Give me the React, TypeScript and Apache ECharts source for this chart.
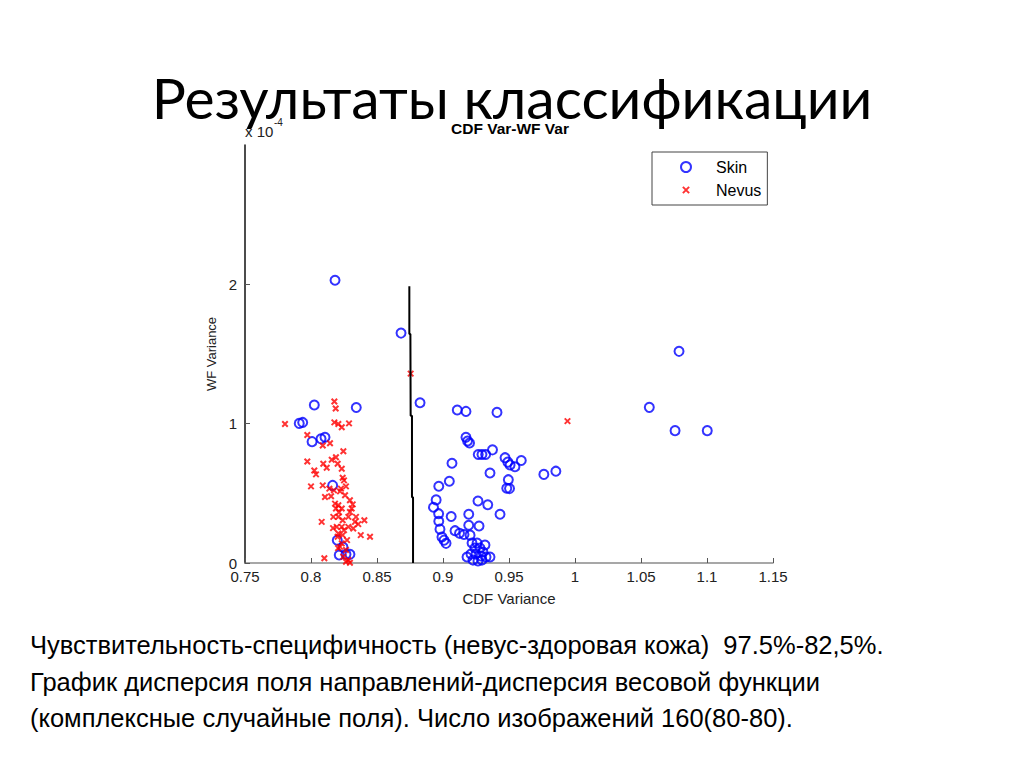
import React, { useEffect, useRef } from "react";
import * as echarts from "echarts";

// CDF Variance (x) vs WF Variance (y, units of 1e-4)
const skinPoints: number[][] = [
  [0.8182, 2.029], [0.8682, 1.65], [0.8826, 1.15], [0.9108, 1.098], [0.9174, 1.088],
  [0.9409, 1.081], [0.8025, 1.134], [0.8343, 1.116], [0.7911, 1.002], [0.7937, 1.009],
  [0.8008, 0.871], [0.8076, 0.891], [0.8106, 0.902], [0.8164, 0.557], [0.8199, 0.164],
  [0.8242, 0.114], [0.8214, 0.057], [0.8265, 0.062], [0.8295, 0.062], [0.9174, 0.902],
  [0.9186, 0.875], [0.9201, 0.861], [0.9267, 0.779], [0.9295, 0.779], [0.9323, 0.779],
  [0.9375, 0.812], [0.9068, 0.716], [0.947, 0.756], [0.9491, 0.724], [0.9508, 0.704],
  [0.9545, 0.691], [0.9593, 0.736], [0.9356, 0.646], [0.9764, 0.636], [0.9855, 0.659],
  [0.9048, 0.587], [0.8968, 0.551], [0.9495, 0.598], [0.9483, 0.536], [0.9504, 0.534],
  [0.8948, 0.453], [0.8928, 0.4], [0.9265, 0.445], [0.9339, 0.418], [0.8967, 0.354],
  [0.8968, 0.3], [0.8977, 0.243], [0.9062, 0.334], [0.9195, 0.35], [0.9432, 0.35],
  [0.9195, 0.271], [0.9273, 0.266], [0.9091, 0.232], [0.9125, 0.213], [0.9159, 0.205],
  [0.8992, 0.186], [0.9008, 0.164], [0.9023, 0.141], [0.9205, 0.2], [0.9182, 0.043],
  [0.922, 0.143], [0.9258, 0.143], [0.9242, 0.107], [0.928, 0.107], [0.9212, 0.064],
  [0.925, 0.064], [0.9288, 0.05], [0.9326, 0.043], [0.9356, 0.043], [0.9265, 0.014],
  [0.9303, 0.079], [0.9318, 0.129], [0.9227, 0.021], [0.9295, 0.021], [1.0788, 1.519],
  [1.0563, 1.117], [1.0758, 0.95], [1.1002, 0.95],
];

const nevusPoints: number[][] = [
  [0.8177, 1.159], [0.8187, 1.109], [0.7803, 0.998], [0.8177, 1.009], [0.8207, 0.998],
  [0.8233, 0.974], [0.8288, 1.002], [0.7972, 0.919], [0.8089, 0.843], [0.8144, 0.859],
  [0.8245, 0.802], [0.7972, 0.729], [0.8093, 0.712], [0.8119, 0.684], [0.8157, 0.741],
  [0.8189, 0.759], [0.8202, 0.712], [0.8233, 0.676], [0.8025, 0.664], [0.8038, 0.636],
  [0.8, 0.55], [0.8089, 0.557], [0.8139, 0.534], [0.8106, 0.474], [0.8152, 0.479],
  [0.824, 0.612], [0.825, 0.593], [0.8265, 0.55], [0.8227, 0.534], [0.822, 0.514],
  [0.8182, 0.426], [0.8207, 0.414], [0.8189, 0.391], [0.8233, 0.391], [0.8295, 0.45],
  [0.8316, 0.421], [0.8308, 0.391], [0.8295, 0.366], [0.8169, 0.331], [0.8207, 0.331],
  [0.824, 0.307], [0.8283, 0.331], [0.8341, 0.331], [0.8333, 0.295], [0.8081, 0.295],
  [0.8404, 0.307], [0.8195, 0.259], [0.8233, 0.259], [0.8283, 0.259], [0.8358, 0.279],
  [0.832, 0.248], [0.8207, 0.212], [0.824, 0.2], [0.8202, 0.188], [0.8377, 0.2],
  [0.8447, 0.188], [0.8233, 0.141], [0.822, 0.116], [0.8265, 0.093], [0.8101, 0.034],
  [0.8245, 0.045], [0.8283, 0.021], [0.8295, 0.002], [0.8265, 0.009], [0.8755, 1.359],
  [0.9943, 1.018], [0.8174, 0.521], [0.8258, 0.486], [0.8212, 0.364], [0.825, 0.236],
  [0.8167, 0.25], [0.8273, 0.164], [0.8205, 0.107],
];

const boundaryPoints: number[][] = [
  [0.8745, 1.986], [0.8745, 1.643], [0.8753, 1.643], [0.8755, 1.057],
  [0.8765, 1.057], [0.8765, 0.471], [0.8773, 0.471], [0.8773, 0],
];

const seriesNames = ["Skin", "Nevus"];
const slideTitle = "Результаты классификации";
const chartTitle = "CDF Var-WF Var";
const xAxisName = "CDF Variance";
const yAxisName = "WF Variance";
const exponentBase = "x 10";
const exponentPower = "-4";
const captionLines = [
  "Чувствительность-специфичность (невус-здоровая кожа)  97.5%-82,5%.",
  "График дисперсия поля направлений-дисперсия весовой функции",
  "(комплексные случайные поля). Число изображений 160(80-80).",
];

export default function App() {
  const ref = useRef<HTMLDivElement>(null);
  useEffect(() => {
    if (!ref.current) return;
    const chart = echarts.init(ref.current, null, { renderer: "svg" });
    const axisFont = "'Liberation Sans', Arial, sans-serif";
    chart.setOption({
      animation: false,
      backgroundColor: "#ffffff",
      title: {
        text: chartTitle,
        left: 510,
        top: 120,
        textAlign: "center",
        padding: 0,
        textStyle: { fontFamily: axisFont, fontSize: 15.5, fontWeight: "bold", color: "#000" },
      },
      legend: {
        data: [
          { name: seriesNames[0] },
          { name: seriesNames[1], icon: "path://M-3,-3M0,0L10,10M10,0L0,10M13,13" },
        ],
        orient: "vertical",
        left: 652,
        top: 152,
        padding: [7, 6, 7, 28],
        itemGap: 7,
        itemWidth: 50,
        itemHeight: 10,
        borderColor: "#444",
        borderWidth: 1,
        backgroundColor: "#fff",
        textStyle: { fontFamily: axisFont, fontSize: 16, color: "#000" },
      },
      grid: { left: 245, right: 251, top: 145, bottom: 204, containLabel: false },
      xAxis: {
        type: "value",
        min: 0.75,
        max: 1.15,
        interval: 0.05,
        name: xAxisName,
        nameLocation: "middle",
        nameGap: 28,
        nameTextStyle: { fontFamily: axisFont, fontSize: 15, color: "#222" },
        axisLine: { lineStyle: { color: "#8a8a8a", width: 1.5 } },
        axisTick: { inside: true, length: 5, lineStyle: { color: "#555" } },
        axisLabel: {
          fontFamily: axisFont,
          fontSize: 15,
          color: "#222",
          margin: 6,
          formatter: (v: number) => String(parseFloat(v.toFixed(2))),
        },
        splitLine: { show: false },
      },
      yAxis: {
        type: "value",
        min: 0,
        max: 3,
        interval: 1,
        name: yAxisName,
        nameLocation: "middle",
        nameGap: 27,
        nameTextStyle: { fontFamily: axisFont, fontSize: 13, color: "#222" },
        axisLine: { show: true, lineStyle: { color: "#111", width: 1.5 } },
        axisTick: { show: true, inside: true, length: 5, lineStyle: { color: "#555" } },
        axisLabel: {
          fontFamily: axisFont,
          fontSize: 15,
          color: "#222",
          margin: 8,
          showMaxLabel: false,
        },
        splitLine: { show: false },
      },
      series: [
        {
          name: seriesNames[0],
          type: "scatter",
          data: skinPoints,
          symbol: "circle",
          symbolSize: 9,
          itemStyle: { color: "rgba(255,255,255,0)", borderColor: "#0000ff", borderWidth: 2 },
        },
        {
          name: seriesNames[1],
          type: "scatter",
          data: nevusPoints,
          symbol: "path://M0,0L10,10M10,0L0,10",
          symbolSize: 5.5,
          itemStyle: { color: "#ff0000", borderColor: "#ff0000", borderWidth: 2 },
        },
        {
          name: "boundary",
          type: "line",
          data: boundaryPoints,
          showSymbol: false,
          symbol: "none",
          lineStyle: { color: "#000", width: 2 },
          silent: true,
        },
      ],
      graphic: [
        {
          type: "text",
          left: "center",
          top: 68,
          style: {
            text: slideTitle,
            font: "57px Lato, 'Open Sans', sans-serif",
            lineHeight: 40,
            fill: "#000",
          },
        },
        {
          type: "text",
          left: 245,
          top: 124,
          style: { text: exponentBase, font: "15px 'Liberation Sans', Arial, sans-serif", fill: "#222" },
        },
        {
          type: "text",
          left: 274,
          top: 117,
          style: { text: exponentPower, font: "10px 'Liberation Sans', Arial, sans-serif", fill: "#222" },
        },
        ...captionLines.map((line, i) => ({
          type: "text",
          left: 30,
          top: 632 + i * 36.5,
          style: {
            text: line,
            font: "25.5px 'Liberation Sans', Arial, sans-serif",
            fill: "#000",
          },
        })),
      ],
    });
    return () => chart.dispose();
  }, []);
  return (
    <div
      ref={ref}
      style={{ position: "absolute", left: 0, top: 0, width: 1024, height: 767, background: "#fff" }}
    />
  );
}
